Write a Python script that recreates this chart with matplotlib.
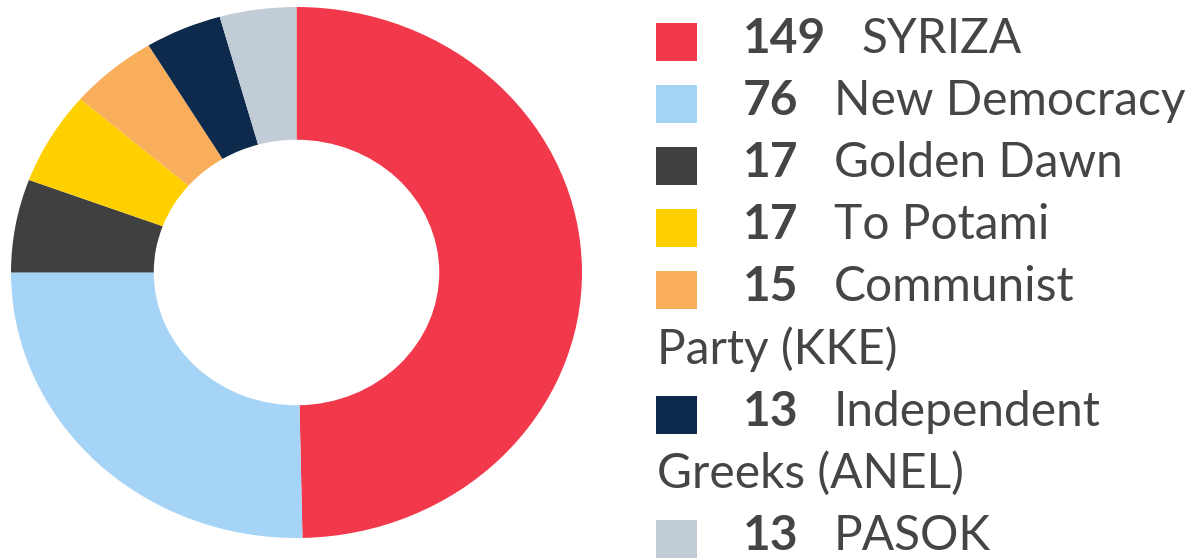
import matplotlib
matplotlib.use("Agg")
import matplotlib.pyplot as plt

# seats in the Hellenic Parliament (Jan 2015)
parties = ["SYRIZA", "New Democracy", "Golden Dawn", "To Potami",
           "Communist\nParty (KKE)", "Independent\nGreeks (ANEL)", "PASOK"]
seats = [149, 76, 17, 17, 15, 13, 13]
colors = ["#F2394B", "#A6D4F6", "#404040", "#FFD000",
          "#F9AE5B", "#0D2A4D", "#C2CCD7"]

W, H = 1198, 560
fig = plt.figure(figsize=(W / 100, H / 100), dpi=100)

# donut is slightly wider than tall in the reference
ax = fig.add_axes([11 / W, (H - 538) / H, 571 / W, 531 / H])
ax.pie(seats, colors=colors, startangle=90, counterclock=False,
       wedgeprops=dict(width=0.5, linewidth=0, antialiased=True))
ax.set_aspect("auto")
ax.set_xlim(-1, 1)
ax.set_ylim(-1, 1)

# legend drawn by hand: square, bold number, name (wrapped lines go under the square)
txt_color = "#454545"
fs = 34.5
sq_x, sq_w, sq_h = 656, 41, 38
num_x = 743
gap = 35
row0, step = 53, 62.1

renderer = fig.canvas.get_renderer()
row = 0
for name, n, c in zip(parties, seats, colors):
    base = row0 + row * step
    ax_sq = fig.add_axes([sq_x / W, (H - (base + 8)) / H, sq_w / W, sq_h / H])
    ax_sq.set_facecolor(c)
    ax_sq.set_xticks([])
    ax_sq.set_yticks([])
    for s in ax_sq.spines.values():
        s.set_visible(False)

    t = fig.text(num_x / W, 1 - base / H, str(n), fontsize=fs,
                 fontfamily="Lato", fontweight="bold", color=txt_color,
                 va="baseline", ha="left")
    bb = t.get_window_extent(renderer)
    lines = name.split("\n")
    fig.text((bb.x1 + gap) / W, 1 - base / H, lines[0], fontsize=fs,
             fontfamily="Lato", color=txt_color, va="baseline", ha="left")
    row += 1
    for extra in lines[1:]:
        base = row0 + row * step
        fig.text((sq_x + 1) / W, 1 - base / H, extra, fontsize=fs,
                 fontfamily="Lato", color=txt_color, va="baseline", ha="left")
        row += 1

fig.savefig("out.png", dpi=100, facecolor="white")
